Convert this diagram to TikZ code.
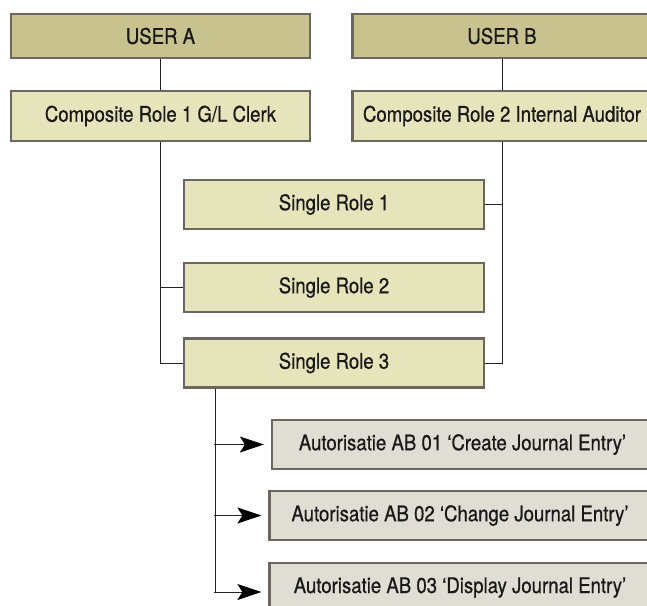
\documentclass[tikz,border=0pt]{standalone}
\usepackage{fontspec}
\setmainfont[FakeStretch=0.865,FakeBold=0.6]{TeX Gyre Heros}
\usetikzlibrary{arrows.meta,positioning,calc}

\definecolor{userfill}{HTML}{C8C28E}
\definecolor{rolefill}{HTML}{E5E4BA}
\definecolor{authfill}{HTML}{E0DDD4}
\definecolor{boxedge}{HTML}{6C6661}
\definecolor{linkcol}{HTML}{222222}

\tikzset{
  box/.style={draw=boxedge, line width=2.2pt, rectangle, inner sep=0pt,
    text=black!90, font=\fontsize{21.5}{25}\selectfont},
  userbox/.style={box, fill=userfill, minimum width=299pt, minimum height=44pt},
  rolebox/.style={box, fill=rolefill, minimum width=299pt, minimum height=50pt},
  singlebox/.style={box, fill=rolefill, minimum width=300pt, minimum height=49pt},
  authbox/.style={box, fill=authfill, minimum width=381pt, minimum height=49pt},
  link/.style={draw=linkcol, line width=1pt},
  pointer/.style={link, -{Stealth[length=24pt,width=16pt,inset=5pt,color=black]}, shorten >=7pt}
}

\begin{document}
\begin{tikzpicture}[x=1pt, y=-1pt]
  \useasboundingbox (0,0) rectangle (647,605);
  \clip (0,0) rectangle (647,605);

  % users and their composite roles
  \node[userbox] (ua) at (160.5,36) {USER A};
  \node[userbox] (ub) at (502,36) {USER B};
  \node[rolebox] (c1) at (160.5,116) {Composite Role 1 G/L Clerk};
  \node[rolebox] (c2) at (502,116) {Composite Role 2 Internal Auditor};

  % single roles
  \node[singlebox] (s1) at (334,204.5) {Single Role 1};
  \node[singlebox] (s2) at (334,287.5) {Single Role 2};
  \node[singlebox] (s3) at (334,363) {Single Role 3};

  % authorisations
  \node[authbox] (a1) at (462.5,444.5) {Autorisatie AB 01 `Create Journal Entry'};
  \node[authbox] (a2) at (460,515.5) {Autorisatie AB 02 `Change Journal Entry'};
  \node[authbox] (a3) at (460,587.5) {Autorisatie AB 03 `Display Journal Entry'};

  % user to composite role
  \draw[link] (ua.south) -- (c1.north);
  \draw[link] (ub.south) -- (c2.north);

  % composite role 1 -> single roles 2 and 3
  \draw[link] (c1.south) |- (s3.west);
  \draw[link] (c1.south |- s2.west) -- (s2.west);

  % composite role 2 -> single roles 1 and 3
  \draw[link] (c2.south) |- (s3.east);
  \draw[link] (c2.south |- s1.east) -- (s1.east);

  % single role 3 -> authorisations
  \coordinate (trunk) at ([xshift=33pt]s3.south west);
  \coordinate (a3in) at ([yshift=-4.5pt]a3.west);
  \draw[link] (trunk) -- (trunk |- a3in);
  \draw[pointer] ([xshift=-2pt]trunk |- a1.west) -- (a1.west);
  \draw[pointer] ([xshift=-2pt]trunk |- a2.west) -- (a2.west);
  \draw[pointer] ([xshift=-2pt]trunk |- a3in) -- (a3in);
\end{tikzpicture}
\end{document}
